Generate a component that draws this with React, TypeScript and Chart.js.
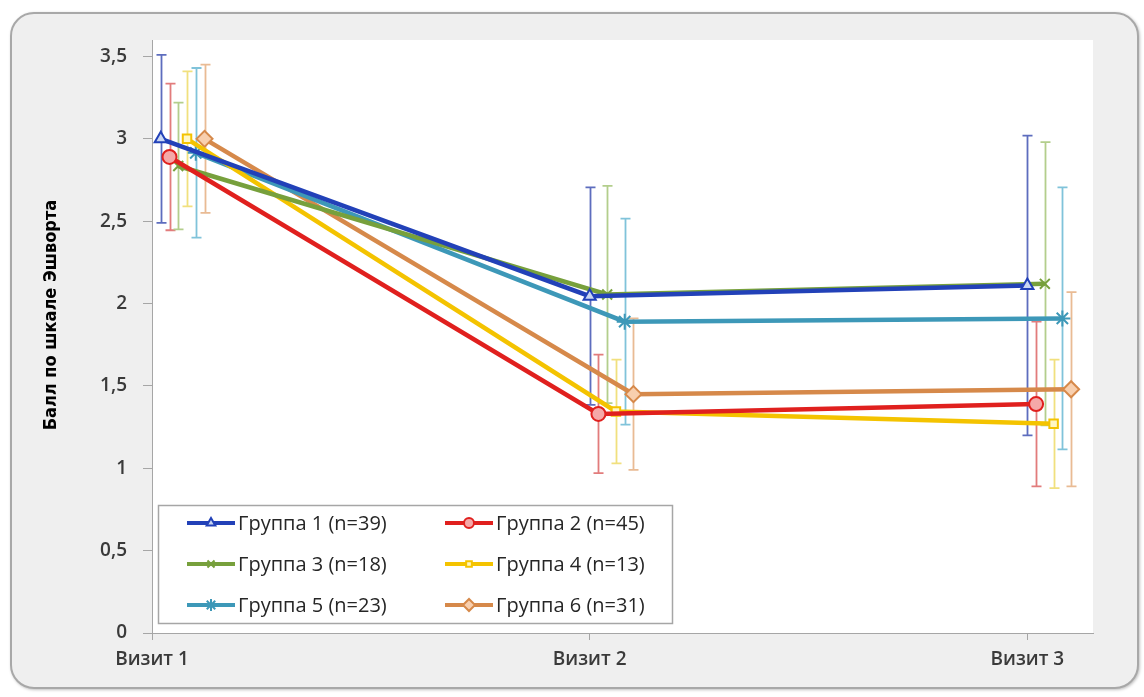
import React, { useEffect, useRef } from "react";
import { Chart, registerables } from "chart.js";
import { drawPoint } from "chart.js/helpers";

Chart.register(...registerables);

// ---------- data ----------
const visitLabels = ["Визит 1", "Визит 2", "Визит 3"];
const visitX = [1.02, 2, 3];
const groupShift = [0, 0.02, 0.04, 0.06, 0.08, 0.1];
const groupNames = [
  "Группа 1 (n=39)",
  "Группа 2 (n=45)",
  "Группа 3 (n=18)",
  "Группа 4 (n=13)",
  "Группа 5 (n=23)",
  "Группа 6 (n=31)",
];
const group1Mean = [3.0, 2.045, 2.11];
const group1Sd = [0.51, 0.66, 0.91];
const group2Mean = [2.89, 1.33, 1.39];
const group2Sd = [0.445, 0.36, 0.5];
const group3Mean = [2.835, 2.055, 2.12];
const group3Sd = [0.385, 0.66, 0.86];
const group4Mean = [3.0, 1.345, 1.27];
const group4Sd = [0.41, 0.315, 0.39];
const group5Mean = [2.915, 1.89, 1.91];
const group5Sd = [0.515, 0.625, 0.795];
const group6Mean = [3.0, 1.45, 1.48];
const group6Sd = [0.45, 0.46, 0.59];
const yTickValues = [0, 0.5, 1, 1.5, 2, 2.5, 3, 3.5];
const yTitle = "Балл по шкале Эшворта";

const means = [group1Mean, group2Mean, group3Mean, group4Mean, group5Mean, group6Mean];
const sds = [group1Sd, group2Sd, group3Sd, group4Sd, group5Sd, group6Sd];

// ---------- styles ----------
const lineColors = ["#2241B8", "#E0201E", "#77A03C", "#F4C300", "#3D98B8", "#D6894A"];
const errColors = ["#5D6DBE", "#E27C7C", "#B3CE8C", "#F1E07E", "#80C3DA", "#E9BB94"];
const markerFills = ["#C9D6F2", "#F5A8A8", "#77A03C", "#FFF7C4", "#3D98B8", "#F8CFAE"];
const markerStyles = ["triangle", "circle", "crossRot", "rect", "star", "rectRot"];
const markerRadius = [7, 7, 7, 6, 8, 8];
const tickFont = { family: "'Open Sans', 'Noto Sans', sans-serif", size: 19, weight: "600" };
const legendFontCss = "500 20px 'Open Sans', 'Noto Sans', sans-serif";
const titleFontCss = "bold 18px 'Liberation Sans Narrow', 'DejaVu Sans Condensed', sans-serif";

const plotBgPlugin = {
  id: "plotBg",
  beforeDraw(chart: any) {
    const { ctx, chartArea } = chart;
    ctx.save();
    ctx.fillStyle = "#ffffff";
    ctx.fillRect(chartArea.left, chartArea.top, chartArea.right - chartArea.left, chartArea.bottom - chartArea.top);
    ctx.restore();
  },
};

const yTitlePlugin = {
  id: "yTitle",
  afterDraw(chart: any) {
    const { ctx, chartArea } = chart;
    ctx.save();
    ctx.translate(chartArea.left - 101, chartArea.top + 275);
    ctx.rotate(-Math.PI / 2);
    ctx.font = titleFontCss;
    ctx.fillStyle = "#000000";
    ctx.textAlign = "center";
    ctx.textBaseline = "middle";
    ctx.fillText(yTitle, 0, 0);
    ctx.restore();
  },
};

const errorBarPlugin = {
  id: "errorBars",
  beforeDatasetsDraw(chart: any) {
    const { ctx, scales } = chart;
    const xs = scales.x;
    const ys = scales.y;
    ctx.save();
    chart.data.datasets.forEach((ds: any, i: number) => {
      ctx.strokeStyle = errColors[i];
      ctx.lineWidth = 1.8;
      ds.data.forEach((p: any, j: number) => {
        const sd = sds[i][j];
        const px = Math.round(xs.getPixelForValue(p.x)) + 0.5;
        const yTop = ys.getPixelForValue(p.y + sd);
        const yBot = ys.getPixelForValue(p.y - sd);
        ctx.beginPath();
        ctx.moveTo(px, yTop);
        ctx.lineTo(px, yBot);
        ctx.moveTo(px - 5, yTop);
        ctx.lineTo(px + 5, yTop);
        ctx.moveTo(px - 5, yBot);
        ctx.lineTo(px + 5, yBot);
        ctx.stroke();
      });
    });
    ctx.restore();
  },
};

const boxLegendPlugin = {
  id: "boxLegend",
  afterDatasetsDraw(chart: any) {
    const { ctx, chartArea } = chart;
    const left = chartArea.left + 6;
    const top = chartArea.bottom - 128;
    const w = 514;
    const h = 118;
    ctx.save();
    ctx.fillStyle = "#ffffff";
    ctx.fillRect(left, top, w, h);
    ctx.strokeStyle = "#A6A6A6";
    ctx.lineWidth = 1.5;
    ctx.strokeRect(left + 0.5, top + 0.5, w, h);
    chart.data.datasets.forEach((ds: any, i: number) => {
      const col = i % 2;
      const row = Math.floor(i / 2);
      const x0 = left + 29 + col * 258;
      const y = top + 18 + row * 41;
      ctx.strokeStyle = lineColors[i];
      ctx.lineWidth = 4;
      ctx.beginPath();
      ctx.moveTo(x0, y);
      ctx.lineTo(x0 + 48, y);
      ctx.stroke();
      ctx.fillStyle = markerFills[i];
      ctx.strokeStyle = lineColors[i];
      ctx.lineWidth = 2;
      drawPoint(ctx, { pointStyle: markerStyles[i], radius: markerRadius[i] - 2, rotation: 0, borderWidth: 2 } as any, x0 + 24, y);
      ctx.fillStyle = "#262626";
      ctx.font = legendFontCss;
      ctx.textBaseline = "middle";
      ctx.textAlign = "left";
      ctx.fillText(ds.label, x0 + 51, y + 1);
    });
    ctx.restore();
  },
};

export default function App() {
  const canvasRef = useRef<HTMLCanvasElement | null>(null);

  useEffect(() => {
    if (!canvasRef.current) return;
    const datasets = groupNames.map((name, g) => ({
      label: name,
      data: visitX.map((x, j) => ({ x: x + groupShift[g], y: means[g][j] })),
      borderColor: lineColors[g],
      backgroundColor: markerFills[g],
      borderWidth: 4.5,
      pointStyle: markerStyles[g],
      pointRadius: markerRadius[g],
      pointBorderWidth: 2,
      pointBorderColor: lineColors[g],
      pointBackgroundColor: markerFills[g],
      tension: 0,
      clip: false as any,
    }));

    const chart = new Chart(canvasRef.current, {
      type: "line",
      data: { datasets },
      options: {
        animation: false,
        responsive: false,
        devicePixelRatio: 1,
        layout: { padding: { left: 41, right: 51, top: 40, bottom: 20 } },
        plugins: {
          legend: { display: false },
          tooltip: { enabled: false },
        },
        scales: {
          x: {
            type: "linear",
            min: 1,
            max: 3.15,
            afterBuildTicks: (s: any) => {
              s.ticks = visitLabels.map((_, i) => ({ value: i + 1 }));
            },
            afterFit: (s: any) => {
              s.height = 44;
            },
            ticks: {
              callback: (v: any) => visitLabels[Math.round(Number(v)) - 1],
              font: tickFont,
              color: "#3A3A3A",
              padding: 8,
              maxRotation: 0,
              autoSkip: false,
            },
            grid: { drawOnChartArea: false, tickLength: 7, color: "#A6A6A6" },
            border: { color: "#A6A6A6", width: 1 },
          },
          y: {
            type: "linear",
            min: 0,
            max: 3.6,
            afterBuildTicks: (s: any) => {
              s.ticks = yTickValues.map((v) => ({ value: v }));
            },
            afterFit: (s: any) => {
              s.width = 111;
            },
            ticks: {
              callback: (v: any) => String(v).replace(".", ","),
              font: tickFont,
              color: "#3A3A3A",
              padding: 16,
            },
            grid: { drawOnChartArea: false, tickLength: 9, color: "#A6A6A6" },
            border: { color: "#A6A6A6", width: 1 },
          },
        },
      } as any,
      plugins: [plotBgPlugin, errorBarPlugin, boxLegendPlugin, yTitlePlugin],
    });
    return () => chart.destroy();
  }, []);

  return (
    <div style={{ position: "fixed", left: 0, top: 0, width: 1144, height: 697, background: "#ffffff" }}>
      <div
        style={{
          position: "absolute",
          left: 10,
          top: 12,
          width: 1129,
          height: 677,
          boxSizing: "border-box",
          border: "2px solid #A8A8A8",
          borderRadius: 24,
          background: "#EFEFEF",
          boxShadow: "1px 1px 3px rgba(0,0,0,0.25)",
        }}
      />
      <canvas
        ref={canvasRef}
        width={1144}
        height={697}
        style={{ position: "absolute", left: 0, top: 0, width: 1144, height: 697 }}
      />
    </div>
  );
}
